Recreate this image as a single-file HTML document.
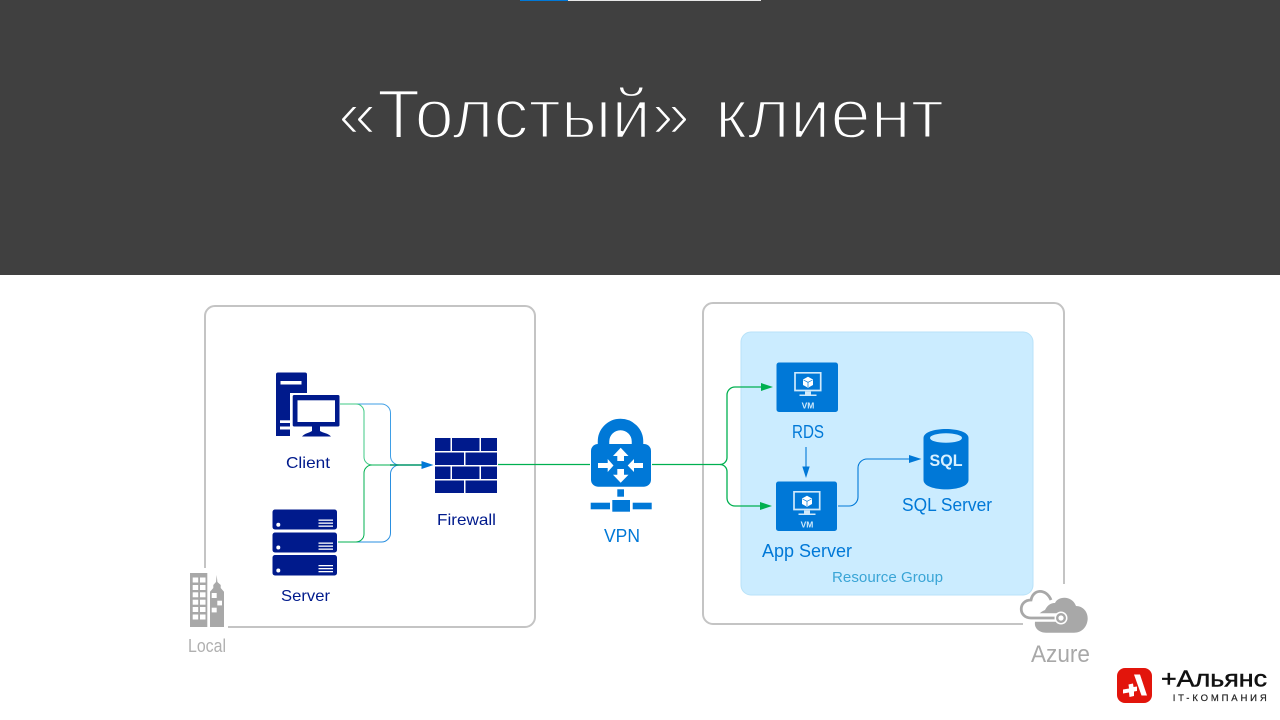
<!DOCTYPE html>
<html><head><meta charset="utf-8"><style>
html,body{margin:0;padding:0;background:#fff;width:1280px;height:720px;overflow:hidden}
svg{display:block}
text{font-family:"Liberation Sans","DejaVu Sans",sans-serif}
</style></head><body>
<svg width="1280" height="720" viewBox="0 0 1280 720" xmlns="http://www.w3.org/2000/svg">
<rect width="1280" height="275" fill="#404040"/>
<rect x="520" y="0" width="48" height="1" fill="#0078d7"/>
<rect x="568" y="0" width="193" height="1" fill="#e8e8e8"/>
<g font-size="70" fill="#fff" stroke="#404040" stroke-width="2.4">
<text x="338" y="138" textLength="352" lengthAdjust="spacingAndGlyphs">«Толстый»</text>
<text x="715" y="138" textLength="229" lengthAdjust="spacingAndGlyphs">клиент</text>
</g>

<!-- boxes -->
<path d="M205 568V316a10 10 0 0 1 10-10H525a10 10 0 0 1 10 10V617a10 10 0 0 1-10 10H228" fill="none" stroke="#c4c4c4" stroke-width="2"/>
<path d="M1023 624H713a10 10 0 0 1-10-10V313a10 10 0 0 1 10-10H1054a10 10 0 0 1 10 10V584" fill="none" stroke="#c4c4c4" stroke-width="2"/>
<rect x="741" y="332" width="292" height="263" rx="10" fill="#cbecff" stroke="#b8e2f8" stroke-width="1"/>

<!-- connectors left -->
<g fill="none" stroke-width="1">
<path d="M340 404H381.500a9 9 0 0 1 9 9V456a9 9 0 0 0 9 9H422" stroke="#3f9fe6"/>
<path d="M338 542H381.500a9 9 0 0 0 9-9V474a9 9 0 0 1 9-9H422" stroke="#2a8fe0"/>
<path d="M340 404H356a8 8 0 0 1 8 8V457a8 8 0 0 0 8 8H422" stroke="#3fca85"/>
<path d="M338 542H356a8 8 0 0 0 8-8V473a8 8 0 0 1 8-8H422" stroke="#00b050"/>
</g>
<path d="M390 465H424" stroke="#00966a" stroke-width="1.500"/>
<path d="M421.500 461l12 4-12 4z" fill="#0078d7"/>

<!-- connectors right -->
<g fill="none" stroke="#00b050" stroke-width="1.300">
<path d="M498 464.500H590"/>
<path d="M652 464.500H720a7 7 0 0 0 7-7V395a8 8 0 0 1 8-8H763"/>
<path d="M720 464.500a7 7 0 0 1 7 7V498a8 8 0 0 0 8 8H762"/>
</g>
<path d="M761 383l12 4-12 4zM760 502l12 4-12 4z" fill="#00b050"/>
<path d="M806 447V468" stroke="#0078d7" stroke-width="1.100"/>
<path d="M802.300 466.500h7.400l-3.700 11.500z" fill="#0078d7"/>
<path d="M838 506H849a9 9 0 0 0 9-9V468a9 9 0 0 1 9-9H911" fill="none" stroke="#0078d7" stroke-width="1.100"/>
<path d="M909 455l12.500 4-12.500 4z" fill="#0078d7"/>

<!-- client -->
<path d="M278 372.500H305a2 2 0 0 1 2 2V436H276V374.500a2 2 0 0 1 2-2z" fill="#001a8c"/>
<rect x="280.500" y="381" width="21" height="3.500" fill="#fff"/>
<rect x="290" y="393" width="20" height="44" fill="#fff"/>
<rect x="280" y="420.300" width="10" height="2.700" fill="#fff"/>
<rect x="280" y="426.500" width="23" height="3" fill="#fff"/>
<rect x="292.700" y="395" width="46.800" height="31.500" rx="1.500" fill="#001a8c"/>
<rect x="297.500" y="400.300" width="37.500" height="21.700" fill="#fff"/>
<path d="M312 426.500H320V431C323 433 328 433 331 436.500H302C305 433 309 433 312 431z" fill="#001a8c"/>

<!-- server -->
<rect x="272.500" y="509.500" width="64.500" height="20" rx="2.500" fill="#001a8c"/>
<rect x="272.500" y="532.500" width="64.500" height="20" rx="2.500" fill="#001a8c"/>
<rect x="272.500" y="555" width="64.500" height="20.500" rx="2.500" fill="#001a8c"/>
<g fill="#fff">
<circle cx="278.300" cy="524.700" r="2"/><circle cx="278.300" cy="547.500" r="2"/><circle cx="278.300" cy="570.500" r="2"/>
<rect x="318.500" y="519.500" width="14.500" height="1.300"/><rect x="318.500" y="522.500" width="14.500" height="1.300"/><rect x="318.500" y="525.500" width="14.500" height="1.300"/>
<rect x="318.500" y="542.500" width="14.500" height="1.300"/><rect x="318.500" y="545.500" width="14.500" height="1.300"/><rect x="318.500" y="548.500" width="14.500" height="1.300"/>
<rect x="318.500" y="565" width="14.500" height="1.300"/><rect x="318.500" y="568" width="14.500" height="1.300"/><rect x="318.500" y="571" width="14.500" height="1.300"/>
</g>

<!-- firewall -->
<g fill="#001a8c">
<rect x="435" y="438" width="15.500" height="13"/><rect x="452" y="438" width="27.500" height="13"/><rect x="481" y="438" width="16" height="13"/>
<rect x="435" y="452.500" width="29" height="12.500"/><rect x="465.500" y="452.500" width="31.500" height="12.500"/>
<rect x="435" y="466.500" width="15.500" height="12.500"/><rect x="452" y="466.500" width="27.500" height="12.500"/><rect x="481" y="466.500" width="16" height="12.500"/>
<rect x="435" y="480.500" width="29" height="12.500"/><rect x="465.500" y="480.500" width="31.500" height="12.500"/>
</g>

<!-- building -->
<g fill="#a8a8a8">
<rect x="190" y="573" width="17.300" height="54"/>
<path d="M210 627V591.700L213.300 588V585L216 582L216.700 575L217.400 582L220.700 585V588L224 591.700V627z"/>
</g>
<g fill="#fff">
<rect x="192.700" y="577.500" width="5.500" height="5"/><rect x="200" y="577.500" width="5.500" height="5"/>
<rect x="192.700" y="585" width="5.500" height="5"/><rect x="200" y="585" width="5.500" height="5"/>
<rect x="192.700" y="592.300" width="5.500" height="5"/><rect x="200" y="592.300" width="5.500" height="5"/>
<rect x="192.700" y="599.700" width="5.500" height="5"/><rect x="200" y="599.700" width="5.500" height="5"/>
<rect x="192.700" y="607" width="5.500" height="5"/><rect x="200" y="607" width="5.500" height="5"/>
<rect x="192.700" y="614.500" width="5.500" height="5"/><rect x="200" y="614.500" width="5.500" height="5"/>
<rect x="211.700" y="593" width="5" height="5"/><rect x="217.300" y="600.700" width="4.700" height="4.700"/><rect x="211.700" y="607.700" width="5" height="4.700"/>
</g>

<!-- VPN -->
<path d="M603.500 447V441.500a17 17 0 0 1 34 0V447" fill="none" stroke="#0078d7" stroke-width="11.500"/>
<rect x="591" y="444" width="60" height="42.700" rx="7" fill="#0078d7"/>
<g fill="#fff">
<path d="M620.700 447.700L628.500 456H624V461H617.300V456H613z"/>
<path d="M620.700 482.700L628.500 474.700H624V469H617.300V474.700H613z"/>
<path d="M613.500 465.500L607.700 459V463H598V468H607.700V472z"/>
<path d="M627.700 465.500L634 459V463H643V468H634V472z"/>
</g>
<g fill="#0078d7">
<rect x="617.300" y="489.300" width="6.700" height="7.400"/>
<rect x="612.300" y="500" width="17.700" height="11.700"/>
<rect x="590.700" y="502.700" width="19.300" height="6.600"/>
<rect x="632.700" y="502.700" width="19" height="6.600"/>
</g>

<!-- VMs -->
<rect x="776.500" y="362.500" width="61.500" height="49.500" rx="2.500" fill="#0078d7"/>
<path d="M795 372.800H820.700V390.500H795z" fill="none" stroke="#cfe9fb" stroke-width="1.700"/>
<path d="M805 391.500H811V394.500H816.500V396H799.500V394.500H805z" fill="#cfe9fb"/>
<path d="M808 376.700l5 2.800v5.500l-5 2.800-5-2.800v-5.500z" fill="#fff"/>
<path d="M803.500 380l4.500 2.300 4.500-2.300M808 382.300V387" fill="none" stroke="#0078d7" stroke-width=".7"/>
<text x="808" y="408.300" font-size="8.500" font-weight="bold" fill="#cfe9fb" text-anchor="middle">VM</text>

<rect x="776" y="481.500" width="61" height="49.500" rx="2.500" fill="#0078d7"/>
<path d="M794 491.800H819.700V509.500H794z" fill="none" stroke="#cfe9fb" stroke-width="1.700"/>
<path d="M804 510.500H810V513.500H815.500V515H798.500V513.500H804z" fill="#cfe9fb"/>
<path d="M807 495.700l5 2.800v5.500l-5 2.800-5-2.800v-5.500z" fill="#fff"/>
<path d="M802.500 499l4.500 2.300 4.500-2.300M807 501.300V506" fill="none" stroke="#0078d7" stroke-width=".7"/>
<text x="807" y="527.300" font-size="8.500" font-weight="bold" fill="#cfe9fb" text-anchor="middle">VM</text>

<!-- SQL -->
<path d="M923.500 438C923.500 426 968.500 426 968.500 438V480C968.500 492.500 923.500 492.500 923.500 480z" fill="#0078d7"/>
<ellipse cx="946" cy="438" rx="16" ry="4.800" fill="#cbecff"/>
<text x="946" y="466" font-size="17" font-weight="bold" fill="#d8f0ff" text-anchor="middle" textLength="33" lengthAdjust="spacingAndGlyphs">SQL</text>

<!-- azure cloud -->
<path d="M1045 610C1048 604 1052 603 1055 603C1058 596 1072 595 1076 606C1083 606 1088 612 1087.700 619C1087 628 1081 632.700 1074 632.700H1046C1039 632.700 1034 628 1035 622C1036 616 1040 612 1045 610z" fill="#a8a8a8"/>
<path d="M1030 617.500H1058" stroke="#fff" stroke-width="8.500"/>
<path d="M1048 601C1045 589 1034 589 1031 600C1018 600 1018 618 1031 618H1057" fill="none" stroke="#fff" stroke-width="6"/>
<path d="M1051 600C1046 588 1033 589 1031 600C1018 600 1018 618 1031 618H1057" fill="none" stroke="#a8a8a8" stroke-width="2.800"/>
<circle cx="1061" cy="618" r="6.500" fill="#fff"/>
<circle cx="1061" cy="618" r="3.800" fill="#fff" stroke="#a8a8a8" stroke-width="2.400"/>

<!-- labels -->
<g font-size="16">
<text x="286" y="468" fill="#001a8c" textLength="44" lengthAdjust="spacingAndGlyphs">Client</text>
<text x="281" y="601" fill="#001a8c" textLength="49" lengthAdjust="spacingAndGlyphs">Server</text>
<text x="437" y="525" fill="#001a8c" textLength="59" lengthAdjust="spacingAndGlyphs">Firewall</text>
<text x="604" y="542" fill="#0078d7" font-size="18" textLength="36" lengthAdjust="spacingAndGlyphs">VPN</text>
<text x="792" y="438" fill="#0078d7" font-size="18" textLength="32" lengthAdjust="spacingAndGlyphs">RDS</text>
<text x="762" y="557" fill="#0078d7" font-size="18" textLength="90" lengthAdjust="spacingAndGlyphs">App Server</text>
<text x="902" y="511" fill="#0078d7" font-size="18" textLength="90" lengthAdjust="spacingAndGlyphs">SQL Server</text>
<text x="832" y="582" fill="#3aa5d6" font-size="15" textLength="111" lengthAdjust="spacingAndGlyphs">Resource Group</text>
<text x="188" y="652" fill="#b0b0b0" font-size="18" textLength="38" lengthAdjust="spacingAndGlyphs">Local</text>
<text x="1031" y="662" fill="#a8a8a8" font-size="24" textLength="59" lengthAdjust="spacingAndGlyphs">Azure</text>
</g>

<!-- logo -->
<rect x="1117" y="668" width="35" height="35" rx="8" fill="#e2150c"/>
<path d="M1134 674.500H1140L1147 695.500H1141.500z" fill="#fff"/>
<path d="M1128.500 684.500L1133 683.500L1133.500 687L1137 686.500V691L1134 691.500L1134 696L1129.500 697L1129 692.500L1123 693.500V689.500L1129 688.500z" fill="#fff"/>
<text x="1161" y="686.700" font-size="23.500" fill="#111" stroke="#111" stroke-width=".5" textLength="106" lengthAdjust="spacingAndGlyphs">+Альянс</text>
<text x="1172.700" y="701" font-size="9.500" fill="#222" stroke="#222" stroke-width=".2" textLength="94" lengthAdjust="spacing">IT-КОМПАНИЯ</text>
</svg>
</body></html>
